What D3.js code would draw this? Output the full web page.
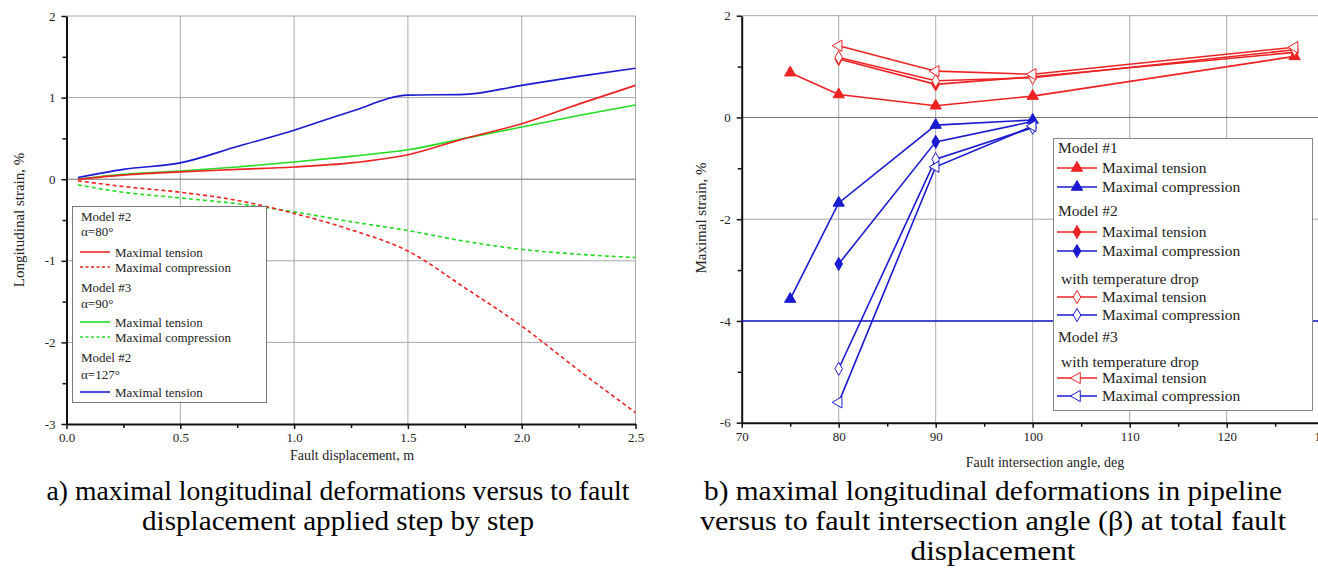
<!DOCTYPE html>
<html>
<head>
<meta charset="utf-8">
<script src="https://cdn.jsdelivr.net/npm/d3@7"></script>
<style>
  body { margin: 0; background: #fff; }
  svg, svg text { font-family: "Liberation Serif", "Times New Roman", Times, serif; }
</style>
</head>
<body>
<svg id="chart" width="1318" height="588"></svg>
<script>
// ---- data: a) strain vs fault displacement ----
const dispX = [0.05, 0.25, 0.5, 0.75, 1.0, 1.25, 1.5, 1.75, 2.0, 2.25, 2.5];
const m2a80Tension = [0, 0.05, 0.09, 0.12, 0.15, 0.2, 0.3, 0.5, 0.68, 0.92, 1.15];
const m2a80Compression = [-0.02, -0.09, -0.16, -0.26, -0.42, -0.62, -0.88, -1.33, -1.8, -2.34, -2.86];
const m3Tension = [0, 0.06, 0.1, 0.15, 0.21, 0.28, 0.36, 0.5, 0.64, 0.78, 0.91];
const m3Compression = [-0.07, -0.16, -0.23, -0.3, -0.4, -0.52, -0.63, -0.76, -0.86, -0.92, -0.96];
const m2a127Tension = [0.02, 0.12, 0.2, 0.4, 0.6, 0.83, 1.03, 1.04, 1.15, 1.26, 1.36];
const leftXTicks = [0.0, 0.5, 1.0, 1.5, 2.0, 2.5];
const leftYTicks = [-3, -2, -1, 0, 1, 2];

// ---- data: b) strain vs fault intersection angle ----
const angle1 = [75, 80, 90, 100, 127];
const m1Tension = [0.88, 0.45, 0.23, 0.42, 1.2];
const angle1c = [75, 80, 90, 100];
const m1Compression = [-3.57, -1.68, -0.15, -0.05];
const angle2 = [80, 90, 100, 127];
const m2Tension = [1.15, 0.65, 0.8, 1.28];
const angle2c = [80, 90, 100];
const m2Compression = [-2.88, -0.48, -0.08];
const m2TempTension = [1.18, 0.72, 0.78, 1.33];
const m2TempCompression = [-4.94, -0.82, -0.2];
const m3TempTension = [1.41, 0.91, 0.85, 1.38];
const m3TempCompression = [-5.6, -0.97, -0.17];
const rightXTicks = [70, 80, 90, 100, 110, 120, 130];
const rightYTicks = [-6, -4, -2, 0, 2];
const limitStrain = -4;

const RED = "#ee2222", BLUE = "#1a1ad0", GREEN = "#22dd22";
const FONT = '"Liberation Serif", "Times New Roman", Times, serif';
const svg = d3.select("#chart");
const hyphen = f => d => f(d).replace("\u2212", "-");

function drawFrame(g, x, y, xTicks, yTicks, xMinor, yMinor, xFmt, yFmt) {
  const [x0, x1] = x.range(), [y0, y1] = y.range();
  // grid
  g.append("g").selectAll("line").data(xTicks.slice(1)).join("line")
    .attr("x1", d => x(d)).attr("x2", d => x(d)).attr("y1", y0).attr("y2", y1)
    .attr("stroke", "#a8a8a8").attr("stroke-width", 1);
  g.append("g").selectAll("line").data(yTicks.slice(1)).join("line")
    .attr("x1", x0).attr("x2", x1).attr("y1", d => y(d)).attr("y2", d => y(d))
    .attr("stroke", d => d === 0 ? "#707070" : "#a8a8a8").attr("stroke-width", 1);
  // minor ticks
  g.append("g").attr("transform", `translate(0,${y0})`)
    .call(d3.axisBottom(x).tickValues(xMinor).tickSize(4).tickFormat(""))
    .call(a => a.select(".domain").remove());
  g.append("g").attr("transform", `translate(${x0},0)`)
    .call(d3.axisLeft(y).tickValues(yMinor).tickSize(4).tickFormat(""))
    .call(a => a.select(".domain").remove());
  // major axes
  const ax = g.append("g").attr("transform", `translate(0,${y0})`)
    .call(d3.axisBottom(x).tickValues(xTicks).tickSize(5).tickSizeOuter(0).tickPadding(4).tickFormat(hyphen(xFmt)));
  const ay = g.append("g").attr("transform", `translate(${x0},0)`)
    .call(d3.axisLeft(y).tickValues(yTicks).tickSize(5).tickSizeOuter(0).tickPadding(6).tickFormat(hyphen(yFmt)));
  [ax, ay].forEach(a => {
    a.attr("font-family", FONT);
    a.select(".domain").attr("stroke", "#111").attr("stroke-width", 2);
    a.selectAll("text").attr("font-size", 13).attr("fill", "#222");
  });
  g.selectAll(".tick line").attr("stroke", "#111").attr("stroke-width", 1.5);
}

// ---------- left chart ----------
const xL = d3.scaleLinear().domain([0, 2.5]).range([66.5, 635.5]);
const yL = d3.scaleLinear().domain([-3, 2]).range([424, 16]);
const gL = svg.append("g");
drawFrame(gL, xL, yL, leftXTicks, leftYTicks,
  d3.range(0.25, 2.5, 0.5), d3.range(-2.5, 2, 1), d3.format(".1f"), d3.format("d"));

const lineL = d3.line().x(d => xL(d[0])).y(d => yL(d[1])).curve(d3.curveMonotoneX);
const leftSeries = [
  { v: m3Compression, c: GREEN, dash: "4,3" },
  { v: m2a80Compression, c: RED, dash: "4,3" },
  { v: m3Tension, c: GREEN, dash: null },
  { v: m2a80Tension, c: RED, dash: null },
  { v: m2a127Tension, c: BLUE, dash: null }
];
leftSeries.forEach(s => {
  gL.append("path").datum(dispX.map((d, i) => [d, s.v[i]]))
    .attr("d", lineL).attr("fill", "none").attr("stroke", s.c)
    .attr("stroke-width", 1.6).attr("stroke-dasharray", s.dash);
});

// left legend
const legL = gL.append("g");
legL.append("rect").attr("x", 72.5).attr("y", 206.5).attr("width", 194).attr("height", 196)
  .attr("fill", "#fff").attr("stroke", "#777").attr("stroke-width", 1);
const legLItems = [
  { t: "Model #2", y: 216 }, { t: "\u03b1=80\u00b0", y: 231 },
  { t: "Maximal tension", y: 252, c: RED }, { t: "Maximal compression", y: 267, c: RED, dash: "3,2.5" },
  { t: "Model #3", y: 287 }, { t: "\u03b1=90\u00b0", y: 303 },
  { t: "Maximal tension", y: 322, c: GREEN }, { t: "Maximal compression", y: 337, c: GREEN, dash: "3,2.5" },
  { t: "Model #2", y: 357 }, { t: "\u03b1=127\u00b0", y: 374 },
  { t: "Maximal tension", y: 392, c: BLUE }
];
legLItems.forEach(d => {
  if (d.c) {
    legL.append("line").attr("x1", 80).attr("x2", 110).attr("y1", d.y).attr("y2", d.y)
      .attr("stroke", d.c).attr("stroke-width", 1.6).attr("stroke-dasharray", d.dash || null);
    legL.append("text").attr("x", 115).attr("y", d.y).attr("dy", "0.35em")
      .attr("font-size", 13).attr("fill", "#222").text(d.t);
  } else {
    legL.append("text").attr("x", 81).attr("y", d.y).attr("dy", "0.35em")
      .attr("font-size", 13).attr("fill", "#222").text(d.t);
  }
});

gL.append("text").attr("transform", "translate(24,220) rotate(-90)").attr("text-anchor", "middle")
  .attr("font-size", 15).attr("fill", "#222").text("Longitudinal strain, %");
gL.append("text").attr("x", 352).attr("y", 460).attr("text-anchor", "middle")
  .attr("font-size", 14).attr("fill", "#222").text("Fault displacement, m");

// ---------- right chart ----------
const xR = d3.scaleLinear().domain([70, 130]).range([741.7, 1323.7]);
const yR = d3.scaleLinear().domain([-6, 2]).range([422.7, 15.7]);
const gR = svg.append("g");
drawFrame(gR, xR, yR, rightXTicks, rightYTicks,
  d3.range(75, 130, 10), d3.range(-5, 2, 2), d3.format("d"), d3.format("d"));

gR.append("line").attr("x1", xR(70)).attr("x2", 1318).attr("y1", yR(limitStrain)).attr("y2", yR(limitStrain))
  .attr("stroke", BLUE).attr("stroke-width", 1.6);

const triUp = d3.symbol().type(d3.symbolTriangle).size(55)();
const diamond = d3.symbol().type(d3.symbolDiamond).size(50)();
const lineR = d3.line().x(d => xR(d[0])).y(d => yR(d[1]));

const rightSeries = [
  { xs: angle1, v: m1Tension, c: RED, sym: triUp, rot: 0, open: false },
  { xs: angle1c, v: m1Compression, c: BLUE, sym: triUp, rot: 0, open: false },
  { xs: angle2, v: m2Tension, c: RED, sym: diamond, rot: 0, open: false },
  { xs: angle2c, v: m2Compression, c: BLUE, sym: diamond, rot: 0, open: false },
  { xs: angle2, v: m2TempTension, c: RED, sym: diamond, rot: 0, open: true },
  { xs: angle2c, v: m2TempCompression, c: BLUE, sym: diamond, rot: 0, open: true },
  { xs: angle2, v: m3TempTension, c: RED, sym: triUp, rot: -90, open: true },
  { xs: angle2c, v: m3TempCompression, c: BLUE, sym: triUp, rot: -90, open: true }
];
rightSeries.forEach(s => {
  const pts = s.xs.map((d, i) => [d, s.v[i]]);
  gR.append("path").datum(pts).attr("d", lineR).attr("fill", "none")
    .attr("stroke", s.c).attr("stroke-width", 1.6);
  gR.append("g").selectAll("path").data(pts).join("path")
    .attr("d", s.sym)
    .attr("transform", d => `translate(${xR(d[0])},${yR(d[1])}) rotate(${s.rot})`)
    .attr("fill", s.open ? "#fff" : s.c).attr("stroke", s.c).attr("stroke-width", 1);
});

// right legend
const legR = gR.append("g");
legR.append("rect").attr("x", 1053.5).attr("y", 138.5).attr("width", 259).attr("height", 272)
  .attr("fill", "#fff").attr("stroke", "#888").attr("stroke-width", 1);
const legRItems = [
  { t: "Model #1", y: 148 },
  { t: "Maximal tension", y: 168, s: 0 }, { t: "Maximal compression", y: 187, s: 1 },
  { t: "Model #2", y: 211 },
  { t: "Maximal tension", y: 232, s: 2 }, { t: "Maximal compression", y: 251, s: 3 },
  { t: "with temperature drop", y: 279, indent: true },
  { t: "Maximal tension", y: 297, s: 4 }, { t: "Maximal compression", y: 315, s: 5 },
  { t: "Model #3", y: 337 },
  { t: "with temperature drop", y: 362, indent: true },
  { t: "Maximal tension", y: 378, s: 6 }, { t: "Maximal compression", y: 396, s: 7 }
];
legRItems.forEach(d => {
  if (d.s !== undefined) {
    const s = rightSeries[d.s];
    legR.append("line").attr("x1", 1057).attr("x2", 1097).attr("y1", d.y).attr("y2", d.y)
      .attr("stroke", s.c).attr("stroke-width", 1.6);
    legR.append("path").attr("d", s.sym)
      .attr("transform", `translate(1077,${d.y}) rotate(${s.rot})`)
      .attr("fill", s.open ? "#fff" : s.c).attr("stroke", s.c).attr("stroke-width", 1);
    legR.append("text").attr("x", 1102).attr("y", d.y).attr("dy", "0.35em")
      .attr("font-size", 15.5).attr("fill", "#222").text(d.t);
  } else {
    legR.append("text").attr("x", d.indent ? 1061 : 1058).attr("y", d.y).attr("dy", "0.35em")
      .attr("font-size", 15.5).attr("fill", "#222").text(d.t);
  }
});

gR.append("text").attr("transform", "translate(706,218) rotate(-90)").attr("text-anchor", "middle")
  .attr("font-size", 15).attr("fill", "#222").text("Maximal strain, %");
gR.append("text").attr("x", 1045).attr("y", 467).attr("text-anchor", "middle")
  .attr("font-size", 14).attr("fill", "#222").text("Fault intersection angle, deg");

// ---------- captions ----------
const captions = [
  { x: 338, w: [583, 392], lines: ["a) maximal longitudinal deformations versus to fault", "displacement applied step by step"] },
  { x: 993, w: [578, 586, 165], lines: ["b) maximal longitudinal deformations in pipeline", "versus to fault intersection angle (\u03b2) at total fault", "displacement"] }
];
captions.forEach(c => {
  c.lines.forEach((t, i) => {
    svg.append("text").attr("x", c.x).attr("y", 500 + i * 30).attr("text-anchor", "middle")
      .attr("font-size", 26.5).attr("fill", "#000")
      .attr("textLength", c.w[i]).attr("lengthAdjust", "spacingAndGlyphs").text(t);
  });
});
</script>
</body>
</html>
